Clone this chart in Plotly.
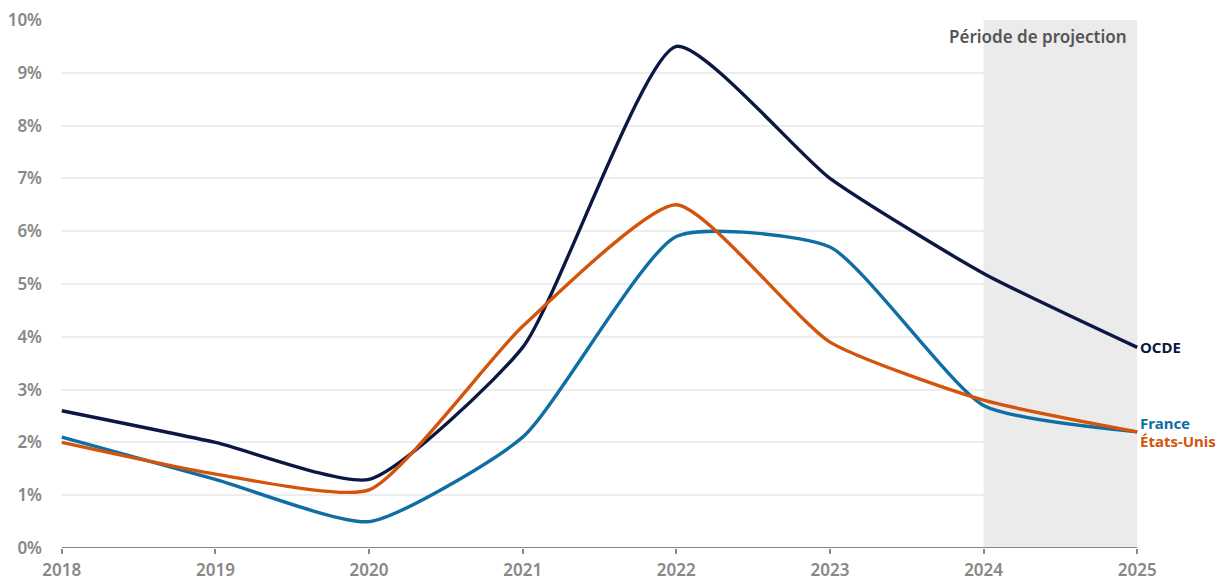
import plotly.graph_objects as go

years = [2018, 2019, 2020, 2021, 2022, 2023, 2024, 2025]
ocde = [2.6, 2.0, 1.3, 3.8, 9.5, 7.0, 5.2, 3.8]
france = [2.1, 1.3, 0.5, 2.1, 5.9, 5.7, 2.7, 2.2]
etats_unis = [2.0, 1.4, 1.1, 4.2, 6.5, 3.9, 2.8, 2.2]
y_ticks = [0, 1, 2, 3, 4, 5, 6, 7, 8, 9, 10]
y_tick_labels = [f"{v}%" for v in y_ticks]
projection_start, projection_end = 2024, 2025

C_OCDE = "#0c1744"
C_FR = "#0f6ea3"
C_US = "#d4540c"
FONT = "Noto Sans"

fig = go.Figure()
fig.add_shape(type="rect", xref="x", yref="y", x0=projection_start, x1=projection_end,
              y0=0, y1=10, fillcolor="#ebebeb", line_width=0, layer="below")

for name, vals, col in [("OCDE", ocde, C_OCDE), ("France", france, C_FR), ("États-Unis", etats_unis, C_US)]:
    fig.add_trace(go.Scatter(x=years, y=vals, mode="lines", name=name,
                             line=dict(color=col, width=3.4, shape="spline", smoothing=0.55),
                             hoverinfo="skip"))

fig.add_annotation(x=projection_end, y=10, xref="x", yref="y", text="Période de projection",
                   showarrow=False, xanchor="right", yanchor="top", xshift=-8, yshift=-3,
                   font=dict(family=FONT, size=17, color="#555555", weight=600))

for name, val, col, ys in [("OCDE", ocde[-1], C_OCDE, 0), ("France", france[-1], C_FR, 9), ("États-Unis", etats_unis[-1], C_US, -9)]:
    fig.add_annotation(x=years[-1], y=val, xref="x", yref="y", text=name, showarrow=False,
                       xanchor="left", yanchor="middle", xshift=1, yshift=ys,
                       font=dict(family=FONT, size=15, color=col, weight=700))

fig.update_layout(
    width=1221, height=582,
    margin=dict(l=61, r=83, t=20, b=34, autoexpand=False),
    plot_bgcolor="white", paper_bgcolor="white",
    showlegend=False,
    font=dict(family=FONT, size=17, color="#888888"),
    xaxis=dict(range=[2017.995, 2025.005], tickvals=years, ticktext=[str(y) for y in years],
               showgrid=False, zeroline=False, showline=False, automargin=False,
               ticks="outside", ticklen=5, tickcolor="#888888", tickwidth=1.5,
               ticklabelstandoff=2,
               tickfont=dict(family=FONT, size=17, color="#888888", weight=600)),
    yaxis=dict(range=[0, 10], tickvals=y_ticks, ticktext=y_tick_labels, automargin=False,
               showgrid=True, gridcolor="#ededed", gridwidth=1.5, zeroline=False,
               showline=False, ticks="", ticklabelstandoff=18,
               tickfont=dict(family=FONT, size=17, color="#888888", weight=600)),
)
fig.add_shape(type="line", xref="x", yref="y", x0=2018, x1=2025, y0=0, y1=0,
              line=dict(color="#888888", width=2), layer="above")

fig.write_html("out.html", config={"displayModeBar": False},
               post_script="document.body.style.margin='0';document.body.style.overflow='hidden';")
